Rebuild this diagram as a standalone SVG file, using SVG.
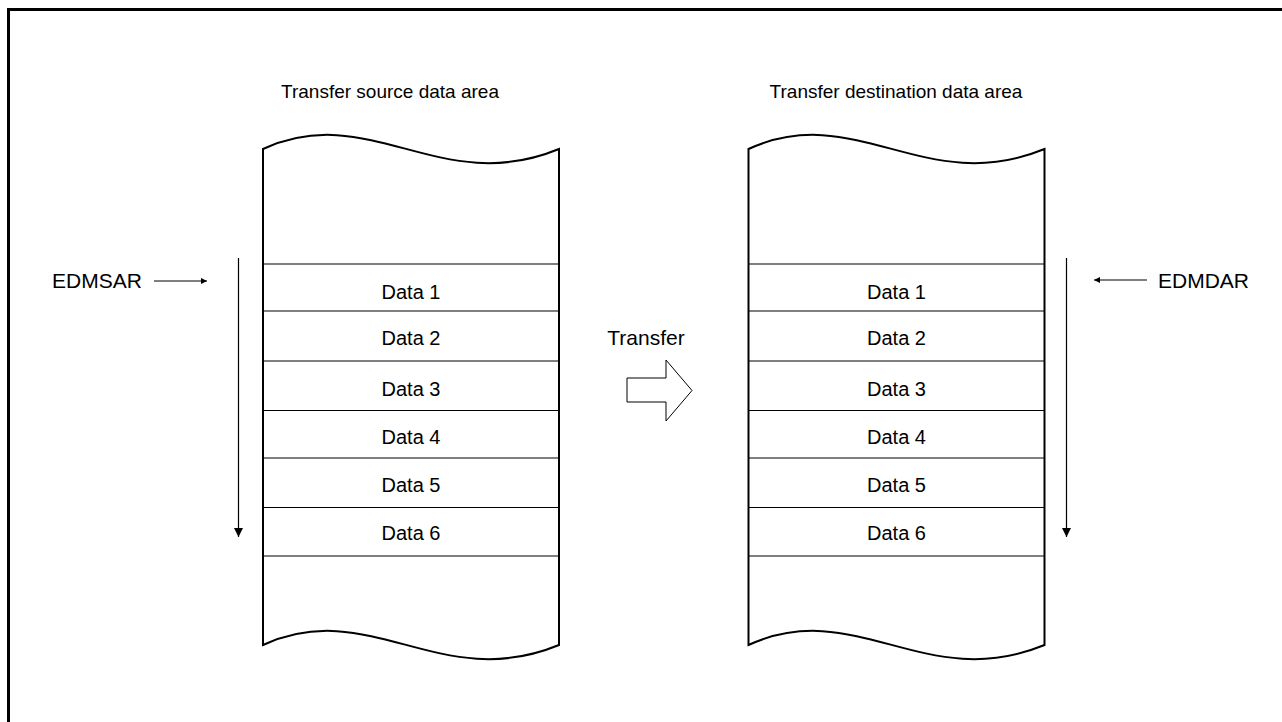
<svg xmlns="http://www.w3.org/2000/svg" width="1282" height="722" viewBox="0 0 1282 722">
<style>
text{font-family:"Liberation Sans",Arial,sans-serif;font-size:19px;fill:#000}
.mid{text-anchor:middle}
.d{font-size:20px}
.big{font-size:21px}
.col{fill:#fff;stroke:#000;stroke-width:2}
.row{stroke:#000;stroke-width:1.2;fill:none}
.ln{stroke:#000;stroke-width:1.2;fill:none}
</style>
<defs>
<marker id="ah" viewBox="0 0 10 10" refX="10" refY="5" markerWidth="10" markerHeight="9" markerUnits="userSpaceOnUse" orient="auto">
<path d="M0,0 L10,5 L0,10 z" fill="#000"/>
</marker>
<marker id="ahs" viewBox="0 0 10 10" refX="10" refY="5" markerWidth="7" markerHeight="6" markerUnits="userSpaceOnUse" orient="auto">
<path d="M0,0 L10,5 L0,10 z" fill="#000"/>
</marker>
</defs>
<rect width="1282" height="722" fill="#fff"/>
<rect x="8.5" y="9.5" width="1400" height="900" fill="none" stroke="#000" stroke-width="3"/>

<g id="source-area">
<text class="mid" x="390" y="98">Transfer source data area</text>
<path class="col" d="M263,149 C370,100 440,198 559,149 L559,645 C440,694 370,596 263,645 Z"/>
<path class="row" d="M263,264H559M263,311H559M263,361H559M263,410.5H559M263,458H559M263,507.5H559M263,556H559"/>
<text class="mid d" x="411" y="299">Data 1</text>
<text class="mid d" x="411" y="345">Data 2</text>
<text class="mid d" x="411" y="396">Data 3</text>
<text class="mid d" x="411" y="444">Data 4</text>
<text class="mid d" x="411" y="492">Data 5</text>
<text class="mid d" x="411" y="540">Data 6</text>
</g>

<g id="dest-area">
<text class="mid" x="896" y="98">Transfer destination data area</text>
<path class="col" d="M748.5,149 C855.5,100 925.5,198 1044.5,149 L1044.5,645 C925.5,694 855.5,596 748.5,645 Z"/>
<path class="row" d="M748.5,264H1044.5M748.5,311H1044.5M748.5,361H1044.5M748.5,410.5H1044.5M748.5,458H1044.5M748.5,507.5H1044.5M748.5,556H1044.5"/>
<text class="mid d" x="896.5" y="299">Data 1</text>
<text class="mid d" x="896.5" y="345">Data 2</text>
<text class="mid d" x="896.5" y="396">Data 3</text>
<text class="mid d" x="896.5" y="444">Data 4</text>
<text class="mid d" x="896.5" y="492">Data 5</text>
<text class="mid d" x="896.5" y="540">Data 6</text>
</g>

<g id="edmsar">
<text class="big" x="52" y="288">EDMSAR</text>
</g>
<g id="edmdar">
<text class="big" x="1158" y="288">EDMDAR</text>
</g>
<g id="transfer">
<text class="mid big" x="646" y="345">Transfer</text>
<polygon points="627,378 666,378 666,360 692,390.5 666,421 666,402 627,402" fill="#fff" stroke="#000" stroke-width="1"/>
</g>

<g id="connectors">
<line class="ln" x1="154" y1="281" x2="207" y2="281" marker-end="url(#ahs)"/>
<line class="ln" x1="1147" y1="280" x2="1094" y2="280" marker-end="url(#ahs)"/>
<line class="ln" x1="238.5" y1="258" x2="238.5" y2="537" marker-end="url(#ah)"/>
<line class="ln" x1="1066.5" y1="258" x2="1066.5" y2="537" marker-end="url(#ah)"/>
</g>
</svg>
